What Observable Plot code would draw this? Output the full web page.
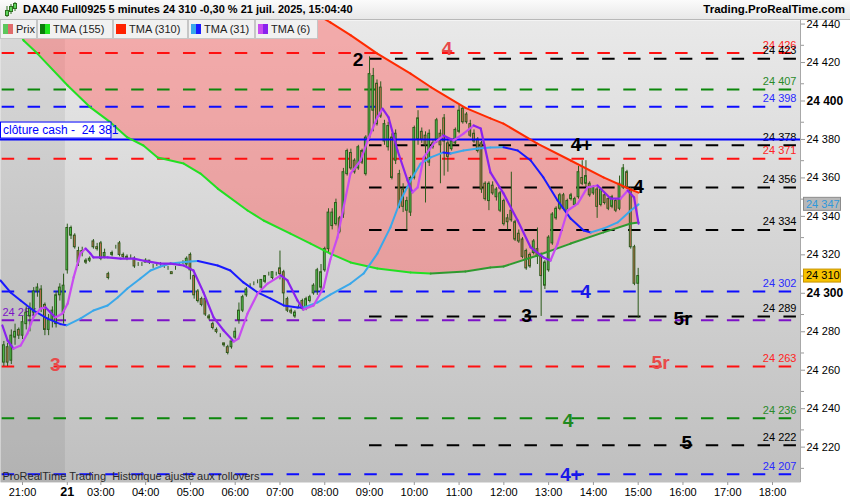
<!DOCTYPE html>
<html><head><meta charset="utf-8">
<script src="https://cdn.jsdelivr.net/npm/d3@7"></script>
<script src="https://cdn.jsdelivr.net/npm/@observablehq/plot@0.6"></script>
<style>
body{margin:0;width:850px;height:500px;overflow:hidden;font-family:"Liberation Sans",Arial,sans-serif;background:#fff}
#hdr{height:20px;position:relative;background:linear-gradient(#fbfbfb,#e8e8e8);box-sizing:border-box;border-bottom:1px solid #b8b8b8}
#icon{position:absolute;left:4px;top:2px}
#title{position:absolute;left:23px;top:3px;font-weight:bold;font-size:11px;color:#000;white-space:nowrap}
#site{position:absolute;right:5px;top:3px;font-weight:bold;font-size:11.5px;color:#000}
#wrap{position:relative;width:850px;height:480px}
#legend{position:absolute;left:0;top:0;height:19px}
.item{position:absolute;top:0;box-sizing:border-box;height:19px;border:1px solid #c6c6c6;border-top:none;background:#f1f1f1;font-size:11px;color:#222;white-space:nowrap}
.sw{position:absolute;top:4px;width:5px;height:10px}
.tx{position:absolute;top:3px}
</style></head>
<body>
<div id="hdr">
  <svg id="icon" width="14" height="16"><line x1="3" y1="4" x2="3" y2="15" stroke="#2d6e1e"/><rect x="1.5" y="8.5" width="3" height="5" fill="#5bd35b" stroke="#2d6e1e"/><line x1="7" y1="2" x2="7" y2="12" stroke="#2d6e1e"/><rect x="5.5" y="4.5" width="3" height="5" fill="#5bd35b" stroke="#2d6e1e"/><line x1="11" y1="0" x2="11" y2="9" stroke="#2d6e1e"/><rect x="9.5" y="1.5" width="3" height="5" fill="#5bd35b" stroke="#2d6e1e"/></svg>
  <div id="title">DAX40 Full0925 5 minutes 24 310 -0,30 % 21 juil. 2025, 15:04:40</div>
  <div id="site">Trading.ProRealTime.com</div>
</div>
<div id="wrap">
  <div id="legend"></div>
</div>
<script>
// ---------- data ----------
const firstBar = -5; // 20:35 bar; bar 0 = 21:00, bar 12 = 02:15 (day 21)
const barOpen = [
24265,24273,24266,24278,24282,24279,24285,24289,24291,24302,
24303,24295,24282,24287,24285,24300,24291,24313,24331,24331,
24323,24322,24318,24318,24328,24325,24327,24320,24311,24321,
24325,24327,24321,24320,24320,24319,24316,24316,24317,24318,
24315,24316,24316,24315,24314,24312,24314,24316,24317,24316,
24321,24310,24302,24298,24298,24289,24285,24282,24279,24275,
24273,24273,24278,24287,24292,24300,24305,24306,24307,24304,
24307,24311,24309,24311,24314,24312,24298,24292,24289,24294,
24297,24293,24297,24301,24302,24304,24313,24324,24336,24337,
24340,24342,24363,24374,24370,24366,24375,24363,24382,24396,
24410,24408,24380,24377,24382,24370,24363,24355,24344,24343,
24361,24381,24385,24383,24369,24379,24380,24384,24392,24379,
24376,24379,24385,24397,24394,24389,24384,24381,24379,24358,
24349,24357,24351,24344,24349,24340,24344,24338,24332,24329,
24323,24321,24322,24324,24320,24305,24313,24327,24340,24345,
24352,24344,24350,24347,24351,24361,24358,24358,24353,24355,
24347,24352,24350,24346,24349,24345,24356,24364,24355,24325,
24306];
const barHigh = [
24276,24275,24282,24285,24283,24289,24294,24296,24304,24306,
24305,24296,24290,24294,24302,24306,24311,24337,24336,24332,
24325,24325,24319,24320,24329,24327,24328,24324,24312,24323,
24326,24328,24322,24321,24321,24320,24317,24317,24319,24318,
24316,24317,24317,24316,24315,24312,24315,24317,24318,24320,
24322,24311,24303,24299,24299,24290,24286,24283,24280,24275,
24274,24276,24283,24296,24300,24304,24306,24307,24308,24308,
24310,24312,24312,24312,24323,24313,24299,24293,24292,24295,
24298,24299,24300,24306,24314,24316,24325,24345,24345,24350,
24341,24366,24376,24376,24371,24378,24376,24383,24424,24418,
24412,24411,24391,24390,24384,24386,24365,24358,24351,24362,
24388,24396,24387,24385,24386,24381,24392,24386,24394,24382,
24381,24387,24399,24398,24395,24391,24386,24382,24380,24359,
24359,24359,24356,24354,24350,24342,24364,24339,24334,24330,
24324,24322,24329,24335,24322,24318,24331,24343,24346,24353,
24353,24350,24353,24351,24367,24370,24370,24359,24357,24356,
24356,24353,24351,24352,24350,24362,24368,24365,24356,24326,
24314];
const barLow = [
24263,24263,24264,24274,24277,24277,24282,24281,24289,24299,
24291,24279,24279,24283,24283,24297,24285,24311,24329,24324,
24315,24320,24316,24317,24324,24323,24318,24319,24308,24320,
24324,24320,24319,24318,24319,24314,24315,24315,24317,24316,
24314,24315,24315,24314,24313,24311,24313,24315,24316,24315,
24308,24298,24296,24294,24289,24287,24282,24280,24278,24273,
24269,24272,24277,24285,24291,24299,24304,24305,24306,24303,
24306,24310,24308,24310,24308,24295,24291,24290,24288,24293,
24292,24292,24296,24300,24300,24302,24312,24322,24334,24336,
24332,24340,24362,24365,24363,24365,24368,24362,24380,24385,
24388,24392,24378,24375,24360,24368,24345,24343,24334,24341,
24360,24378,24379,24348,24367,24376,24379,24358,24362,24364,
24375,24378,24384,24389,24389,24382,24379,24374,24353,24349,
24344,24352,24349,24343,24336,24334,24338,24328,24327,24319,
24313,24314,24321,24316,24289,24303,24312,24326,24339,24344,
24344,24343,24349,24346,24350,24357,24356,24351,24352,24340,
24346,24347,24344,24345,24343,24344,24355,24355,24324,24305,
24288];
const barClose = [
24274,24265,24279,24281,24279,24286,24291,24293,24302,24304,
24293,24282,24287,24292,24300,24304,24305,24335,24335,24325,
24317,24323,24317,24319,24325,24324,24319,24322,24309,24322,
24325,24321,24320,24319,24320,24315,24316,24316,24318,24317,
24315,24316,24316,24315,24314,24311,24314,24316,24317,24319,
24313,24300,24297,24295,24290,24288,24283,24281,24279,24274,
24270,24276,24281,24292,24299,24303,24305,24306,24307,24308,
24310,24311,24312,24311,24311,24301,24292,24291,24291,24294,
24293,24298,24299,24305,24313,24312,24324,24343,24343,24348,
24333,24364,24375,24366,24364,24377,24369,24382,24415,24414,
24389,24393,24389,24388,24361,24384,24346,24346,24349,24361,
24387,24392,24381,24378,24384,24377,24391,24378,24380,24372,
24380,24386,24396,24390,24390,24383,24380,24375,24355,24350,
24358,24353,24355,24353,24337,24338,24339,24329,24328,24320,
24314,24315,24328,24320,24310,24317,24330,24342,24345,24352,
24345,24349,24352,24350,24364,24358,24362,24352,24356,24346,
24355,24348,24345,24351,24344,24358,24366,24356,24325,24306,
24310];

// long moving averages TMA(155) green and TMA(310) red, read at common bars
const slowBars = [-6,-2.4,0.3,4,12.1,18.2,23.6,28.1,32.4,36.2,43.2,47.7,52.3,60.3,64.6,71.8,77.2,82.5,87.9,95.1,104,109.4,118.7,125.4,128.9,138,146.9,155.7,163,165.1];
const tma155 = [24450,24442.9,24432.5,24425.7,24409.1,24397.7,24389.9,24382.1,24377.9,24371.7,24368.5,24363.3,24355.5,24344.1,24338.9,24332.1,24326.9,24321.7,24317.1,24313.9,24311.9,24311.3,24312.4,24314.5,24315.0,24320.7,24326.9,24332.7,24337.3,24337.9];
const tma310 = [24537,24533,24530,24526,24518,24511,24505,24500,24496,24492,24485,24480,24475,24466,24462,24454,24448,24441.9,24435.3,24425.7,24415.3,24408.3,24397.5,24392.0,24389.3,24378.9,24370.1,24361.3,24355.0,24353.4];

const tma31Bars = [-5.9,-3.2,-0.5,2.9,6.7,10.2,11.8,15.5,19.0,22.8,25.5,28.1,31.6,34.3,37.0,39.7,45.0,47.0,52.3,55.7,59.2,63.0,66.5,70.0,73.7,75.3,79.1,82.5,87.9,91.4,95.1,98.6,101.3,104.0,106.7,109.4,112.8,114.7,118.2,122.0,125.4,128.9,132.7,136.2,139.6,143.4,146.9,150.4,152.3,155.7,159.5,163.0,165.1];
const tma31 = [24307.7,24301.5,24297.3,24292.1,24287.9,24285.0,24284.4,24287.9,24292.1,24294.7,24298.9,24303.5,24308.7,24312.9,24315.0,24316.5,24317.6,24317.8,24315.5,24312.9,24306.7,24301.5,24298.3,24294.7,24293.7,24293.6,24296.3,24300.4,24306.1,24311.3,24321.7,24335.3,24349.3,24359.7,24368.5,24371.7,24374.3,24373.7,24375.3,24376.3,24376.9,24377.0,24375.3,24370.1,24361.3,24349.3,24339.9,24333.7,24332.7,24334.7,24337.9,24344.1,24347.3];

const tma6Bars = [-5.4,-4.0,-2.4,-0.5,1.3,2.9,4.8,6.2,7.5,8.8,10.7,12.1,13.7,15.5,16.9,18.2,19.0,22.8,26.3,29.8,33.5,37.0,39.7,43.2,45.8,48.5,51.2,53.9,56.6,57.9,60.3,63.0,65.7,69.2,71.0,73.7,75.3,78.0,80.7,82.5,84.4,87.9,90.6,92.5,95.1,96.5,98.1,100.5,103.2,104.5,105.9,107.5,110.2,112.8,115.5,118.2,120.9,122.8,125.4,128.9,132.7,136.2,139.6,141.5,143.4,146.1,148.8,151.4,154.1,157.6,160.3,162.2,163.9,165.1];
const tma6 = [24284.3,24276.5,24272.3,24273.9,24280.1,24288.5,24293.1,24293.7,24291.1,24288.5,24290.5,24295.7,24309.3,24321.7,24324.3,24321.7,24319.7,24319.7,24319.1,24319.1,24317.6,24316.5,24316.5,24315.5,24312.9,24301.5,24288.5,24281.7,24276.0,24277.5,24290.5,24300.9,24306.1,24310.3,24307.7,24297.3,24292.6,24294.7,24304.1,24318.6,24330.1,24363.3,24370.1,24380.5,24392.5,24397.1,24392.5,24375.3,24359.7,24353.5,24356.1,24371.7,24378.9,24383.1,24380.5,24384.1,24388.3,24386.7,24363.9,24353.0,24338.9,24324.9,24319.7,24318.1,24326.9,24344.1,24347.7,24356.1,24357.1,24350.3,24350.3,24354.5,24350.9,24337.3];

// horizontal levels
const levelValues = [24426,24423,24407,24398,24378,24371,24356,24334,24302,24289,24287,24263,24236,24222,24207];
const levelKinds  = ["red","black","green","blue","black","red","black","black","blue","black","purple","red","green","black","blue"];
const levelFromBar = [-5.45,93,-5.45,-5.45,93,-5.45,93,93,-5.45,93,-5.45,-5.45,-5.45,93,-5.45];
const levelLabeled = [true,true,true,true,true,true,true,true,true,true,false,true,true,true,true];
const cashClose = 24381;

// wave annotations
const noteTexts  = ["4","2","4+","4","4","3","5r","3","5r","4","5","4+"];
const noteBars   = [113.8,89.9,149.8,165.1,150.9,135.1,176.9,8.8,171,146.2,178,147];
const noteValues = [24428.2,24422.4,24378.2,24356.3,24301.7,24289.2,24287.9,24263.8,24265.1,24234.9,24223.2,24206.6];
const noteKinds  = ["red","black","black","black","blue","black","black","red","red","green","black","blue"];

// axes
const xTickBars = [0,21,33,45,57,69,81,93,105,117,129,141,153,165,177,189,201];
const xTickLabels = ["21:00","03:00","04:00","05:00","06:00","07:00","08:00","09:00","10:00","11:00","12:00","13:00","14:00","15:00","16:00","17:00","18:00"];
const dayTickBar = 12, dayTickLabel = "21";
const sessionBreak = 11.5;
const yTicks = d3.range(24220, 24441, 20);
const yBoldTicks = [24300, 24400];
const yMinorTicks = d3.range(24210, 24440, 20);
const lastPrice = 24310, lastTma31 = 24347.3;

// ---------- styles ----------
const lineColor = {red:"#ff1010", black:"#000000", green:"#0b870b", blue:"#0d0dff", purple:"#7d12c8"};
const labelColor = {red:"#ff2424", black:"#000000", green:"#2a8a2a", blue:"#2a2aff", purple:"#7d12c8"};
const noteColor = {red:"#e84a4a", black:"#000000", green:"#1f8a1f", blue:"#1818e8"};
const wickColor = "#2b5a1a", upFill = "#58d458", downFill = "#e8765f";

const fmt = v => d3.format(",")(Math.round(v)).replace(",", " ");

// ---------- derived rows ----------
const bars = barOpen.map((o, i) => ({b: firstBar + i, open: o, high: barHigh[i], low: barLow[i], close: barClose[i]}));
const slow = slowBars.map((b, i) => ({b, g: tma155[i], r: tma310[i]}));
function segs(xs, ys) {
  const s = [];
  for (let i = 1; i < xs.length; i++) s.push({x1: xs[i-1], y1: ys[i-1], x2: xs[i], y2: ys[i], up: ys[i] > ys[i-1]});
  return s;
}
const levels = levelValues.map((v, i) => ({v, kind: levelKinds[i], from: levelFromBar[i], labeled: levelLabeled[i]}));
const notes = noteTexts.map((t, i) => ({t, b: noteBars[i], v: noteValues[i], kind: noteKinds[i]}));
const xDomain = [-5.9, 208.5];
const yDomain = [24202.65, 24442.9];
const lineEnd = {red: 206.6, green: 206.6, blue: 206.6, purple: 206.6, black: 208.0};

const chart = Plot.plot({
  width: 850, height: 480,
  marginLeft: 0, marginRight: 50, marginTop: 0, marginBottom: 18,
  x: {domain: xDomain, axis: null},
  y: {domain: yDomain, axis: null},
  color: {type: "identity"},
  style: {fontFamily: "Liberation Sans, Arial, sans-serif", background: "white", overflow: "visible"},
  marks: [
    Plot.frame({fill: "url(#bgGrad)", stroke: "none"}),
    Plot.rect([{x1: xDomain[0], x2: sessionBreak}], {x1: "x1", x2: "x2", fill: "#000", fillOpacity: 0.065}),
    Plot.areaY(slow, {x: "b", y1: "g", y2: "r", fill: "#ff5f5f", fillOpacity: 0.45, clip: true}),
    Plot.ruleY(levels, {y: "v", x1: "from", x2: d => lineEnd[d.kind], stroke: d => lineColor[d.kind], strokeWidth: 2, strokeDasharray: "12.5,13.4"}),
    Plot.text(levels.filter(d => d.labeled), {y: "v", text: d => fmt(d.v), frameAnchor: "right", textAnchor: "end", dx: -4, dy: -8, fill: d => labelColor[d.kind], fontSize: 11, fontWeight: d => (d.v === 24289 || d.v === 24263) ? "bold" : "normal"}),
    Plot.text([24287], {y: d => d, text: d => fmt(d), frameAnchor: "left", textAnchor: "start", dx: 2, dy: -8, fill: labelColor.purple, fontSize: 11}),
    Plot.text(["ProRealTime Trading \u00a0Historique ajusté aux rollovers"], {frameAnchor: "bottom-left", textAnchor: "start", lineAnchor: "middle", dx: 2, dy: -6.5, fill: "#2a2a2a", fontSize: 11}),
    // candles
    Plot.ruleX(bars, {x: "b", y1: "low", y2: "high", stroke: wickColor, strokeWidth: 1}),
    Plot.rect(bars, {x1: d => d.b - 0.24, x2: d => d.b + 0.24, y1: "open", y2: "close", fill: d => d.close >= d.open ? upFill : downFill, stroke: wickColor, strokeWidth: 1}),
    Plot.ruleY([cashClose], {y: d => d, stroke: "#0000ff", strokeWidth: 2}),
    // moving averages
    Plot.link(segs(slowBars, tma155), {x1: "x1", y1: "y1", x2: "x2", y2: "y2", stroke: d => d.up ? "#2f9a2f" : "#22e022", strokeWidth: 2, strokeLinecap: "round", clip: true}),
    Plot.link(segs(slowBars, tma310), {x1: "x1", y1: "y1", x2: "x2", y2: "y2", stroke: "#ff2a00", strokeWidth: 2, strokeLinecap: "round", clip: true}),
    Plot.link(segs(tma31Bars, tma31), {x1: "x1", y1: "y1", x2: "x2", y2: "y2", stroke: d => d.up ? "#3aa8ea" : "#1a1aff", strokeWidth: 2, strokeLinecap: "round", clip: true}),
    Plot.link(segs(tma6Bars, tma6), {x1: "x1", y1: "y1", x2: "x2", y2: "y2", stroke: d => d.up ? "#c84cf0" : "#8a22ee", strokeWidth: 2.2, strokeLinecap: "round", clip: true}),
    // wave labels
    Plot.text(notes, {x: "b", y: "v", text: "t", fill: d => noteColor[d.kind], fontSize: 19, fontWeight: "bold", lineAnchor: "middle"}),
    // axes
    Plot.ruleX([xDomain[1]], {x: d => d, stroke: "#a8a8a8", strokeWidth: 1}),
    Plot.axisY(yMinorTicks, {anchor: "right", tickSize: 3, tickFormat: () => "", stroke: "#999"}),
    Plot.axisY(yTicks.filter(v => !yBoldTicks.includes(v)), {anchor: "right", tickSize: 4, tickPadding: 2, tickFormat: fmt, fontSize: 11, dy: -2, stroke: "#999", fill: "#000"}),
    Plot.axisY(yBoldTicks, {anchor: "right", tickSize: 4, tickPadding: 2, tickFormat: fmt, fontSize: 12, fontWeight: "bold", dy: -2, stroke: "#999", fill: "#000"}),
    Plot.axisX(xTickBars, {anchor: "bottom", tickSize: 3, tickPadding: 3, tickFormat: d => xTickLabels[xTickBars.indexOf(d)], fontSize: 11, stroke: "#999", fill: "#000"}),
    Plot.axisX([dayTickBar], {anchor: "bottom", tickSize: 3, tickPadding: 2, tickFormat: () => dayTickLabel, fontSize: 12.5, fontWeight: "bold", stroke: "#999", fill: "#000"})
  ]
});

// gradient background for the frame
const svg = d3.select(chart);
const defs = svg.insert("defs", ":first-child");
const lg = defs.append("linearGradient").attr("id", "bgGrad").attr("x1", 0).attr("y1", 0).attr("x2", 0).attr("y2", 1);
lg.append("stop").attr("offset", "0%").attr("stop-color", "#e9e9e9");
lg.append("stop").attr("offset", "100%").attr("stop-color", "#bfbfbf");

// price tags on the right axis and the cash-close tag, placed with the library's y scale
const ys = chart.scale("y");
const tagX = 850 - 50 + 3;
[{v: lastTma31, fill: "#b8b8b8", stroke: "#8c8c8c", text: "#2f98dc"}, {v: lastPrice, fill: "#f6c200", stroke: "#c89400", text: "#000"}].forEach(t => {
  const y = ys.apply(t.v);
  const g = svg.append("g").attr("text-anchor", "start");
  g.append("rect").attr("x", tagX + 0.5).attr("y", y - 6.5).attr("width", 37).attr("height", 13).attr("fill", t.fill).attr("stroke", t.stroke);
  g.append("text").attr("x", tagX + 3).attr("y", y).attr("dy", "0.35em").attr("text-anchor", "start").attr("font-size", 11).attr("fill", t.text).attr("font-family", "Liberation Sans, Arial, sans-serif").text(fmt(t.v));
});
{
  const y = ys.apply(cashClose);
  const g = svg.append("g").attr("text-anchor", "start");
  g.append("rect").attr("x", 0.5).attr("y", y - 17).attr("width", 110.5).attr("height", 16).attr("fill", "#fff").attr("stroke", "#0000ff");
  g.append("text").attr("x", 3).attr("y", y - 9).attr("dy", "0.35em").attr("text-anchor", "start").attr("font-size", 12).attr("fill", "#0000ff").attr("font-family", "Liberation Sans, Arial, sans-serif").text("clôture cash - \u00a024 381");
}
document.getElementById("wrap").appendChild(chart);

// legend overlay (boxes at the reference's positions)
const legendItems = [
  {name: "Prix", c: ["#5cc65c", "#e06b6b"], left: 0, w: 37},
  {name: "TMA (155)", c: ["#0a7d0a", "#1ee81e"], left: 37, w: 76},
  {name: "TMA (310)", c: ["#ff2200", "#ff2200"], left: 113, w: 75},
  {name: "TMA (31)", c: ["#3aa8ea", "#1a1aff"], left: 188, w: 67},
  {name: "TMA (6)", c: ["#c84cf0", "#8a22ee"], left: 255, w: 63}
];
const leg = document.getElementById("legend");
legendItems.forEach(it => {
  const d = document.createElement("div");
  d.className = "item"; d.style.left = it.left + "px"; d.style.width = it.w + "px";
  d.innerHTML = `<span class="sw" style="left:2px;background:${it.c[0]}"></span><span class="sw" style="left:7px;background:${it.c[1]}"></span><span class="tx" style="left:15px">${it.name}</span>`;
  leg.appendChild(d);
});
</script>
</body></html>
